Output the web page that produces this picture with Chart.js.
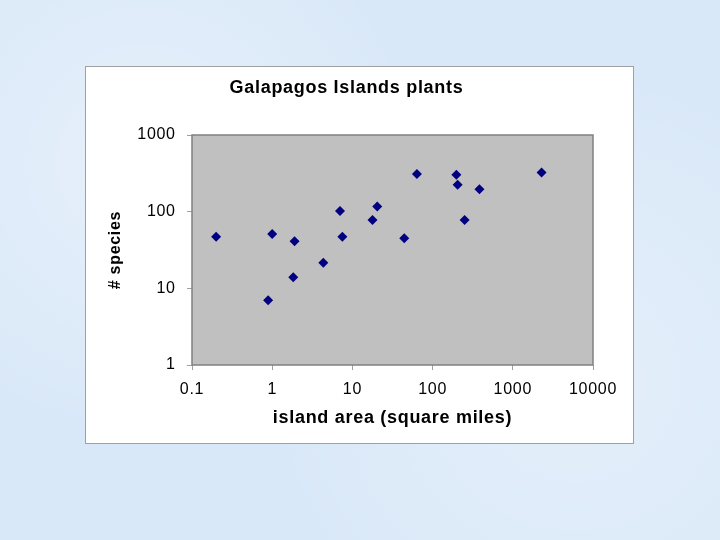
<!DOCTYPE html>
<html>
<head>
<meta charset="utf-8">
<script src="https://cdn.jsdelivr.net/npm/chart.js@4.4.1/dist/chart.umd.min.js"></script>
<style>
  html, body { margin: 0; padding: 0; }
  body {
    width: 720px; height: 540px; overflow: hidden;
    background: #d9e8f8;
    background-image:
      radial-gradient(circle at 20% 30%, rgba(255,255,255,0.35) 0, rgba(255,255,255,0) 40%),
      radial-gradient(circle at 80% 70%, rgba(255,255,255,0.3) 0, rgba(255,255,255,0) 45%);
  }
  #wrap { position: absolute; left: 0; top: 0; width: 720px; height: 540px; }
</style>
</head>
<body>
<div id="wrap"><canvas id="myChart" width="720" height="540"></canvas></div>
<script>
// island area (square miles) and number of plant species
var area    = [0.2, 0.89, 1.0, 1.83, 1.9, 4.34, 7.0, 7.5, 17.8, 20.4, 44.3, 63.8, 198, 205, 251, 384, 2285];
var species = [47,  7.0,  51,  13.9, 41,  21.5, 102, 47,  78,   117,  45,   311,  302, 225, 78,  196, 324];

var xTicks = [0.1, 1, 10, 100, 1000, 10000];
var yTicks = [1, 10, 100, 1000];

var points = [];
for (var i = 0; i < area.length; i++) {
  points.push({ x: area[i], y: species[i] });
}

// the old office-style text is spaced out a little
function spaceText(chart) {
  chart.ctx.letterSpacing = '0.7px';
}

// white panel behind the chart and grey plot area
var panelPlugin = {
  id: 'panel',
  beforeLayout: function(chart) { spaceText(chart); },
  beforeDraw: function(chart) {
    var ctx = chart.ctx;
    var a = chart.chartArea;
    ctx.save();
    ctx.fillStyle = '#ffffff';
    ctx.fillRect(86, 66, 547, 377);
    ctx.strokeStyle = '#a0a0a0';
    ctx.lineWidth = 1;
    ctx.strokeRect(85.5, 66.5, 548, 377);
    ctx.fillStyle = '#c0c0c0';
    ctx.fillRect(a.left, a.top, a.right - a.left, a.bottom - a.top);
    ctx.restore();
    spaceText(chart);
  },
  afterDraw: function(chart) {
    var ctx = chart.ctx;
    var a = chart.chartArea;
    ctx.save();
    ctx.strokeStyle = '#808080';
    ctx.lineWidth = 1.5;
    ctx.strokeRect(a.left, a.top, a.right - a.left, a.bottom - a.top);
    ctx.restore();
  }
};

var fontFam = 'Arial, "Liberation Sans", sans-serif';

var chart = new Chart(document.getElementById('myChart').getContext('2d'), {
  type: 'scatter',
  data: {
    datasets: [{
      label: 'species',
      data: points,
      pointStyle: 'rectRot',
      pointRadius: 5,
      pointHoverRadius: 5,
      backgroundColor: '#000080',
      borderColor: '#000080',
      borderWidth: 0
    }]
  },
  options: {
    responsive: false,
    animation: false,
    layout: { padding: { left: 100, right: 127, top: 0, bottom: 105 } },
    plugins: {
      legend: { display: false },
      tooltip: { enabled: false },
      title: {
        display: true,
        text: 'Galapagos Islands plants',
        color: '#000000',
        font: { family: fontFam, size: 18, weight: 'bold' },
        padding: { top: 77.2, bottom: 36.2 }
      }
    },
    scales: {
      x: {
        type: 'logarithmic',
        min: 0.1, max: 10000,
        afterBuildTicks: function(scale) {
          scale.ticks = xTicks.map(function(v) { return { value: v }; });
        },
        afterFit: function(scale) { scale.height = 70; },
        ticks: {
          color: '#000000',
          padding: 10,
          maxRotation: 0,
          autoSkip: false,
          font: { family: fontFam, size: 16 },
          callback: function(v) { return String(v); }
        },
        grid: { drawOnChartArea: false, tickLength: 5, color: '#a0a0a0' },
        border: { display: false },
        title: {
          display: true,
          text: 'island area (square miles)',
          color: '#000000',
          font: { family: fontFam, size: 18, weight: 'bold' },
          padding: { top: 0, bottom: 6.2 }
        }
      },
      y: {
        type: 'logarithmic',
        min: 1, max: 1000,
        afterBuildTicks: function(scale) {
          scale.ticks = yTicks.map(function(v) { return { value: v }; });
        },
        afterFit: function(scale) { scale.width = 92; },
        ticks: {
          color: '#000000',
          padding: 11.3,
          autoSkip: false,
          font: { family: fontFam, size: 16 },
          callback: function(v) { return String(v); }
        },
        grid: { drawOnChartArea: false, tickLength: 5, color: '#a0a0a0' },
        border: { display: false },
        title: {
          display: true,
          text: '# species',
          color: '#000000',
          font: { family: fontFam, size: 16, weight: 'bold' },
          padding: { top: 6, bottom: 0 }
        }
      }
    }
  },
  plugins: [panelPlugin]
});
</script>
</body>
</html>
